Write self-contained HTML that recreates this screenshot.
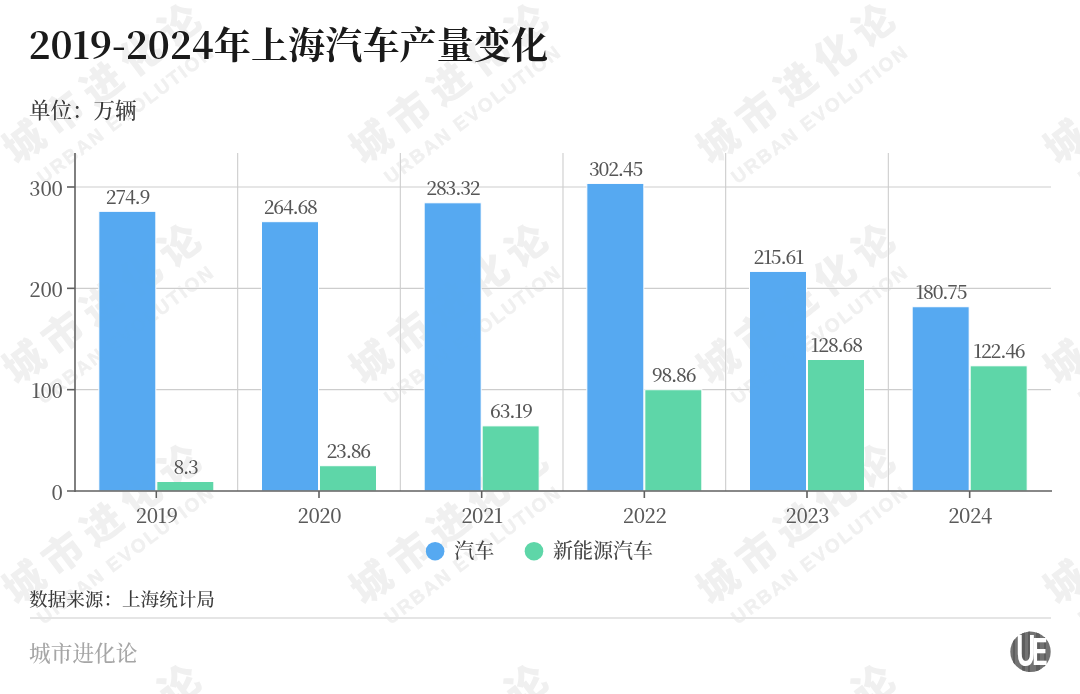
<!DOCTYPE html>
<html lang="zh-CN">
<head>
<meta charset="utf-8">
<title>2019-2024年上海汽车产量变化</title>
<style>
html,body{margin:0;padding:0;background:#fff;}
body{width:1080px;height:694px;overflow:hidden;position:relative;}
svg{display:block;position:absolute;left:0;top:0;}
text{font-kerning:normal;}
.t{font-family:"Noto Serif CJK SC","Liberation Serif",serif;font-weight:700;font-size:37.15px;fill:#1a1a1a;}
.u{font-family:"Liberation Serif","Noto Serif CJK SC",serif;font-weight:500;font-size:21.5px;fill:#3a3a3a;}
.ax{font-family:"Noto Serif CJK SC","Liberation Serif",serif;font-weight:500;font-size:20px;fill:#5a5a5a;}
.xl{letter-spacing:-0.45px;}
.yl{letter-spacing:-0.15px;}
.dl{font-family:"Noto Serif CJK SC","Liberation Serif",serif;font-weight:500;font-size:19.1px;fill:#565656;letter-spacing:-1.25px;}
.lg{font-family:"Liberation Serif","Noto Serif CJK SC",serif;font-weight:500;font-size:20px;fill:#444;}
.src{font-family:"Liberation Serif","Noto Serif CJK SC",serif;font-weight:500;font-size:18.6px;fill:#3a3a3a;}
.ft{font-family:"Liberation Serif","Noto Serif CJK SC",serif;font-weight:500;font-size:21.7px;fill:#a6a6a6;}
.wm1{font-family:"Liberation Sans","Noto Sans CJK SC",sans-serif;font-weight:900;font-size:40px;letter-spacing:8.6px;fill:#f0f0f0;}
.wm2{font-family:"Liberation Sans","Noto Sans CJK SC",sans-serif;font-weight:700;font-size:19px;letter-spacing:2.1px;fill:#f0f0f0;stroke:#f0f0f0;stroke-width:0.5px;}
</style>
</head>
<body>
<svg width="1080" height="694" viewBox="0 0 1080 694">
<rect x="0" y="0" width="1080" height="694" fill="#ffffff"/>
<text class="t" x="28.4" y="58.6">2019-2024年上海汽车产量变化</text>
<text class="u" x="29" y="118">单位：万辆</text>
<g stroke="#cdcdcd" stroke-width="1.1" fill="none">
<line x1="75.0" y1="389.67" x2="1051.0" y2="389.67"/>
<line x1="75.0" y1="288.33" x2="1051.0" y2="288.33"/>
<line x1="75.0" y1="187.00" x2="1051.0" y2="187.00"/>
<line x1="237.67" y1="153" x2="237.67" y2="491.0"/>
<line x1="400.33" y1="153" x2="400.33" y2="491.0"/>
<line x1="563.00" y1="153" x2="563.00" y2="491.0"/>
<line x1="725.67" y1="153" x2="725.67" y2="491.0"/>
<line x1="888.33" y1="153" x2="888.33" y2="491.0"/>
</g>
<rect x="98.83" y="211.33" width="57.0" height="279.67" fill="#56a9f1" stroke="#fff" stroke-width="1"/>
<rect x="156.83" y="481.49" width="57.0" height="9.51" fill="#5ed6a8" stroke="#fff" stroke-width="1"/>
<text class="dl" x="127.53" y="203.83" text-anchor="middle">274.9</text>
<text class="dl" x="185.53" y="473.99" text-anchor="middle">8.3</text>
<rect x="261.50" y="221.69" width="57.0" height="269.31" fill="#56a9f1" stroke="#fff" stroke-width="1"/>
<rect x="319.50" y="465.72" width="57.0" height="25.28" fill="#5ed6a8" stroke="#fff" stroke-width="1"/>
<text class="dl" x="290.20" y="214.19" text-anchor="middle">264.68</text>
<text class="dl" x="348.20" y="458.22" text-anchor="middle">23.86</text>
<rect x="424.17" y="202.80" width="57.0" height="288.20" fill="#56a9f1" stroke="#fff" stroke-width="1"/>
<rect x="482.17" y="425.87" width="57.0" height="65.13" fill="#5ed6a8" stroke="#fff" stroke-width="1"/>
<text class="dl" x="452.87" y="195.30" text-anchor="middle">283.32</text>
<text class="dl" x="510.87" y="418.37" text-anchor="middle">63.19</text>
<rect x="586.83" y="183.42" width="57.0" height="307.58" fill="#56a9f1" stroke="#fff" stroke-width="1"/>
<rect x="644.83" y="389.72" width="57.0" height="101.28" fill="#5ed6a8" stroke="#fff" stroke-width="1"/>
<text class="dl" x="615.53" y="175.92" text-anchor="middle">302.45</text>
<text class="dl" x="673.53" y="382.22" text-anchor="middle">98.86</text>
<rect x="749.50" y="271.42" width="57.0" height="219.58" fill="#56a9f1" stroke="#fff" stroke-width="1"/>
<rect x="807.50" y="359.50" width="57.0" height="131.50" fill="#5ed6a8" stroke="#fff" stroke-width="1"/>
<text class="dl" x="778.20" y="263.92" text-anchor="middle">215.61</text>
<text class="dl" x="836.20" y="352.00" text-anchor="middle">128.68</text>
<rect x="912.17" y="306.74" width="57.0" height="184.26" fill="#56a9f1" stroke="#fff" stroke-width="1"/>
<rect x="970.17" y="365.81" width="57.0" height="125.19" fill="#5ed6a8" stroke="#fff" stroke-width="1"/>
<text class="dl" x="940.87" y="299.24" text-anchor="middle">180.75</text>
<text class="dl" x="998.87" y="358.31" text-anchor="middle">122.46</text>
<g stroke="#606060" stroke-width="1.6" fill="none">
<line x1="75.0" y1="153" x2="75.0" y2="492.0"/>
<line x1="67.0" y1="491.0" x2="1052.0" y2="491.0"/>
<line x1="67.0" y1="389.67" x2="75.0" y2="389.67"/>
<line x1="67.0" y1="288.33" x2="75.0" y2="288.33"/>
<line x1="67.0" y1="187.00" x2="75.0" y2="187.00"/>
<line x1="156.33" y1="491.0" x2="156.33" y2="498.0"/>
<line x1="319.00" y1="491.0" x2="319.00" y2="498.0"/>
<line x1="481.67" y1="491.0" x2="481.67" y2="498.0"/>
<line x1="644.33" y1="491.0" x2="644.33" y2="498.0"/>
<line x1="807.00" y1="491.0" x2="807.00" y2="498.0"/>
<line x1="969.67" y1="491.0" x2="969.67" y2="498.0"/>
</g>
<text class="ax yl" x="62.8" y="499.80" text-anchor="end">0</text>
<text class="ax yl" x="62.8" y="398.47" text-anchor="end">100</text>
<text class="ax yl" x="62.8" y="297.13" text-anchor="end">200</text>
<text class="ax yl" x="62.8" y="195.80" text-anchor="end">300</text>
<text class="ax xl" x="156.63" y="523" text-anchor="middle">2019</text>
<text class="ax xl" x="319.30" y="523" text-anchor="middle">2020</text>
<text class="ax xl" x="481.97" y="523" text-anchor="middle">2021</text>
<text class="ax xl" x="644.63" y="523" text-anchor="middle">2022</text>
<text class="ax xl" x="807.30" y="523" text-anchor="middle">2023</text>
<text class="ax xl" x="969.97" y="523" text-anchor="middle">2024</text>
<circle cx="435.1" cy="551.2" r="9.3" fill="#56a9f1"/>
<text class="lg" x="454.2" y="558">汽车</text>
<circle cx="534" cy="551.2" r="9.3" fill="#5ed6a8"/>
<text class="lg" x="553" y="558">新能源汽车</text>
<text class="src" x="29" y="606">数据来源：上海统计局</text>
<line x1="30" y1="618" x2="1051" y2="618" stroke="#dcdcdc" stroke-width="1.5"/>
<text class="ft" x="29" y="661">城市进化论</text>
<defs><filter id="wb" x="-5%" y="-5%" width="110%" height="110%"><feGaussianBlur stdDeviation="0.7"/></filter></defs>
<g id="wm" style="mix-blend-mode:darken" filter="url(#wb)">
<g transform="translate(102,84.0) rotate(-37)"><text class="wm1" x="4.3" y="14" text-anchor="middle">城市进化论</text><text class="wm2" x="1" y="45" text-anchor="middle">URBAN EVOLUTION</text></g>
<g transform="translate(449,84.0) rotate(-37)"><text class="wm1" x="4.3" y="14" text-anchor="middle">城市进化论</text><text class="wm2" x="1" y="45" text-anchor="middle">URBAN EVOLUTION</text></g>
<g transform="translate(796,84.0) rotate(-37)"><text class="wm1" x="4.3" y="14" text-anchor="middle">城市进化论</text><text class="wm2" x="1" y="45" text-anchor="middle">URBAN EVOLUTION</text></g>
<g transform="translate(1143,84.0) rotate(-37)"><text class="wm1" x="4.3" y="14" text-anchor="middle">城市进化论</text><text class="wm2" x="1" y="45" text-anchor="middle">URBAN EVOLUTION</text></g>
<g transform="translate(102,304.3) rotate(-37)"><text class="wm1" x="4.3" y="14" text-anchor="middle">城市进化论</text><text class="wm2" x="1" y="45" text-anchor="middle">URBAN EVOLUTION</text></g>
<g transform="translate(449,304.3) rotate(-37)"><text class="wm1" x="4.3" y="14" text-anchor="middle">城市进化论</text><text class="wm2" x="1" y="45" text-anchor="middle">URBAN EVOLUTION</text></g>
<g transform="translate(796,304.3) rotate(-37)"><text class="wm1" x="4.3" y="14" text-anchor="middle">城市进化论</text><text class="wm2" x="1" y="45" text-anchor="middle">URBAN EVOLUTION</text></g>
<g transform="translate(1143,304.3) rotate(-37)"><text class="wm1" x="4.3" y="14" text-anchor="middle">城市进化论</text><text class="wm2" x="1" y="45" text-anchor="middle">URBAN EVOLUTION</text></g>
<g transform="translate(102,524.6) rotate(-37)"><text class="wm1" x="4.3" y="14" text-anchor="middle">城市进化论</text><text class="wm2" x="1" y="45" text-anchor="middle">URBAN EVOLUTION</text></g>
<g transform="translate(449,524.6) rotate(-37)"><text class="wm1" x="4.3" y="14" text-anchor="middle">城市进化论</text><text class="wm2" x="1" y="45" text-anchor="middle">URBAN EVOLUTION</text></g>
<g transform="translate(796,524.6) rotate(-37)"><text class="wm1" x="4.3" y="14" text-anchor="middle">城市进化论</text><text class="wm2" x="1" y="45" text-anchor="middle">URBAN EVOLUTION</text></g>
<g transform="translate(1143,524.6) rotate(-37)"><text class="wm1" x="4.3" y="14" text-anchor="middle">城市进化论</text><text class="wm2" x="1" y="45" text-anchor="middle">URBAN EVOLUTION</text></g>
<g transform="translate(102,744.9) rotate(-37)"><text class="wm1" x="4.3" y="14" text-anchor="middle">城市进化论</text><text class="wm2" x="1" y="45" text-anchor="middle">URBAN EVOLUTION</text></g>
<g transform="translate(449,744.9) rotate(-37)"><text class="wm1" x="4.3" y="14" text-anchor="middle">城市进化论</text><text class="wm2" x="1" y="45" text-anchor="middle">URBAN EVOLUTION</text></g>
<g transform="translate(796,744.9) rotate(-37)"><text class="wm1" x="4.3" y="14" text-anchor="middle">城市进化论</text><text class="wm2" x="1" y="45" text-anchor="middle">URBAN EVOLUTION</text></g>
<g transform="translate(1143,744.9) rotate(-37)"><text class="wm1" x="4.3" y="14" text-anchor="middle">城市进化论</text><text class="wm2" x="1" y="45" text-anchor="middle">URBAN EVOLUTION</text></g>
</g>
<g id="logo"><defs><clipPath id="lc"><circle cx="1030.5" cy="651.8" r="20.2"/></clipPath></defs><circle cx="1030.5" cy="651.8" r="20.2" fill="#737373"/><g clip-path="url(#lc)" fill="#5e5e5e"><rect x="1013" y="630" width="2" height="44"/><rect x="1022" y="630" width="3" height="44"/><rect x="1028" y="630" width="2" height="44"/><rect x="1036" y="630" width="4" height="44"/><rect x="1044" y="630" width="2" height="44"/></g><text transform="translate(1016.2,666) scale(0.6,1)" font-family="&quot;Liberation Sans&quot;,sans-serif" font-weight="700" font-size="44.3" fill="#fff"><tspan x="0" y="0">U</tspan><tspan x="26.83" y="-1.2" font-size="38">E</tspan></text></g>
</svg>
</body>
</html>
